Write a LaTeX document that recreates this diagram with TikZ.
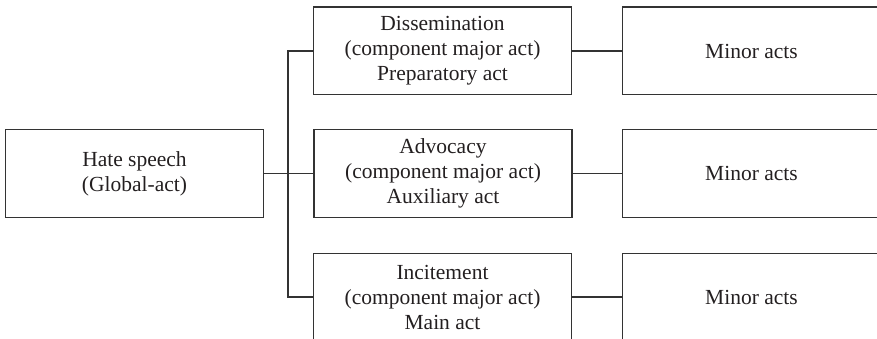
\documentclass[tikz,border=0pt]{standalone}
\usepackage{fontspec}
\setmainfont{Liberation Serif}
\definecolor{ink}{HTML}{231F20}
\definecolor{edge}{HTML}{333333}
\begin{document}
\begin{tikzpicture}[x=1pt,y=-1pt,
  box/.style={draw=edge, line width=1.5pt, text=ink, align=center, inner sep=0pt,
    minimum width=258pt, minimum height=87.5pt,
    font=\fontsize{21.5}{25}\selectfont},
  link/.style={draw=edge, line width=1.5pt}]
\useasboundingbox (0,0) rectangle (877,339);
\node[box] (hate) at (134.5,173.5) {Hate speech\\(Global-act)};
\node[box] (diss) at (442.5,51) {Dissemination\\(component major act)\\Preparatory act};
\node[box] (adv) at (443,173.5) {Advocacy\\(component major act)\\Auxiliary act};
\node[box] (inc) at (442.5,297) {Incitement\\(component major act)\\Main act};
\node[box] (m1) at (751.5,51) {Minor acts};
\node[box] (m2) at (751.5,173.5) {Minor acts};
\node[box] (m3) at (751.5,297) {Minor acts};
\coordinate (j) at (288,173.5);
\draw[link] (diss.west) -| (j) |- (inc.west);
\draw[link] (hate.east) -- (adv.west);
\draw[link] (diss.east) -- (m1.west);
\draw[link] (adv.east) -- (m2.west);
\draw[link] (inc.east) -- (m3.west);
\end{tikzpicture}
\end{document}
